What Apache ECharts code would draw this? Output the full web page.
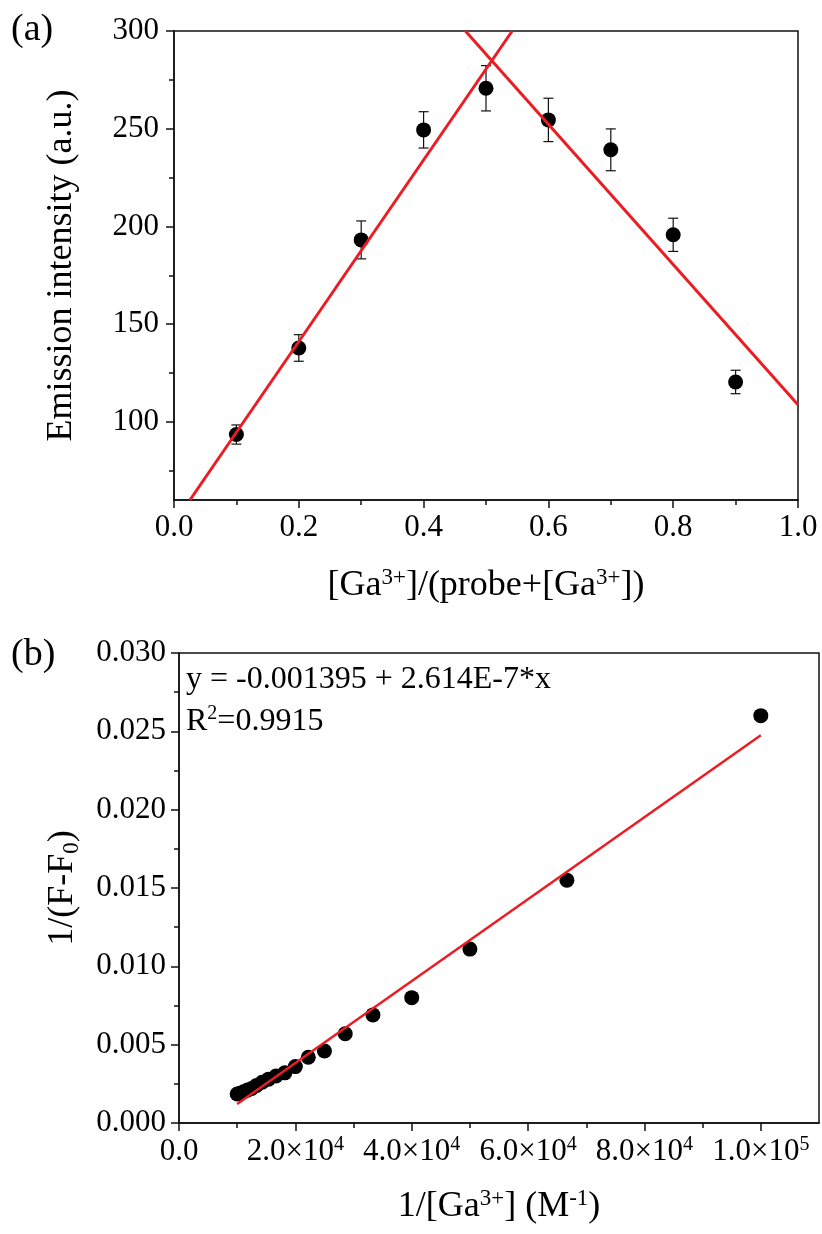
<!DOCTYPE html>
<html>
<head>
<meta charset="utf-8">
<script src="https://cdn.jsdelivr.net/npm/echarts@6/dist/echarts.min.js"></script>
<style>
html,body{margin:0;padding:0;background:#fff;}
#main{width:822px;height:1234px;}
</style>
</head>
<body>
<div id="main"></div>
<script>
// ---------- Panel (a): Job's plot ----------
const ratioA = [0.1, 0.2, 0.3, 0.4, 0.5, 0.6, 0.7, 0.8, 0.9];
const intensityA = [93.5, 137.8, 193.1, 249.4, 270.7, 254.5, 239.2, 195.7, 120.4];
const errA = [4.9, 6.8, 9.7, 9.3, 11.6, 11.1, 10.7, 8.5, 6.0];
const fitRiseA = [[0.0255, 60], [0.542, 300]];
const fitFallA = [[0.467, 300], [1.0, 108.8]];
const yTicksA = [100, 150, 200, 250, 300];
const yMinorA = [75, 125, 175, 225, 275];

// ---------- Panel (b): Benesi-Hildebrand plot ----------
const invGaB = [10000, 10526, 11111, 11765, 12500, 13333, 14286, 15385, 16667, 18182,
                20000, 22222, 25000, 28571, 33333, 40000, 50000, 66667, 100000];
const invDFB = [0.00185, 0.0019, 0.0020, 0.0021, 0.0022, 0.0024, 0.0026, 0.0028, 0.0030, 0.0032,
                0.0036, 0.0042, 0.0046, 0.0057, 0.0069, 0.0080, 0.0111, 0.0155, 0.0260];
const fitB = [[10000, 0.001219], [100000, 0.024745]];
const xTicksB = [0, 20000, 40000, 60000, 80000, 100000];
const xMinorB = [10000, 30000, 50000, 70000, 90000];
const eqText = 'y = -0.001395 + 2.614E-7*x';
const r2Value = '0.9915';

const FONT = 'Liberation Serif';
const TICK = 31, TITLE = 36, SUP = 23;
const AX = '#111';
const RED = '#ec1c24';
const TXT = '#000';

const chart = echarts.init(document.getElementById('main'), null, {renderer: 'canvas'});

const errData = ratioA.map((x, i) => [x, intensityA[i] - errA[i], intensityA[i] + errA[i]]);
const ptsA = ratioA.map((x, i) => [x, intensityA[i]]);
const ptsB = invGaB.map((x, i) => [x, invDFB[i]]);

function sci(v) {
  if (v === 0) return '{n|0.0}';
  const e = Math.floor(Math.log10(v));
  const m = (v / Math.pow(10, e)).toFixed(1);
  return '{n|' + m + '×10}{s|' + e + '}';
}

const lineStyleAx = {color: AX, width: 1.5};
const baseLabel = {fontFamily: FONT, fontSize: TICK, color: TXT};
const titleRich = {
  n: {fontFamily: FONT, fontSize: TITLE, lineHeight: 40, color: TXT},
  s: {fontFamily: FONT, fontSize: SUP, lineHeight: 24, verticalAlign: 'top', color: TXT},
  b: {fontFamily: FONT, fontSize: SUP, lineHeight: 24, verticalAlign: 'bottom', color: TXT}
};

const option = {
  animation: false,
  backgroundColor: '#fff',
  grid: [
    {left: 174, top: 31, width: 624, height: 469, show: true, borderColor: AX, borderWidth: 1.5, containLabel: false},
    {left: 179, top: 653, width: 640, height: 470, show: true, borderColor: AX, borderWidth: 1.5, containLabel: false}
  ],
  xAxis: [
    { gridIndex: 0, type: 'value', position: 'bottom', min: 0, max: 1, interval: 0.2,
      axisLine: {show: true, lineStyle: lineStyleAx},
      axisTick: {show: true, inside: false, length: 8, lineStyle: lineStyleAx},
      minorTick: {show: true, splitNumber: 2, length: 5, lineStyle: lineStyleAx},
      splitLine: {show: false}, minorSplitLine: {show: false},
      axisLabel: Object.assign({}, baseLabel, {margin: 12, formatter: v => v.toFixed(1)}),
      name: '{n|[Ga}{s|3+}{n|]/(probe+[Ga}{s|3+}{n|])}', nameLocation: 'middle', nameGap: 66,
      nameTextStyle: {fontFamily: FONT, color: TXT, rich: titleRich}
    },
    { gridIndex: 1, type: 'value', position: 'bottom', min: 0, max: 110000,
      axisLine: {show: true, lineStyle: lineStyleAx},
      axisTick: {show: true, inside: false, length: 8, lineStyle: lineStyleAx, customValues: xTicksB},
      splitLine: {show: false},
      axisLabel: Object.assign({}, baseLabel, {margin: 12, customValues: xTicksB, formatter: v => sci(v),
        rich: {n: {fontFamily: FONT, fontSize: TICK, lineHeight: 34, color: TXT},
               s: {fontFamily: FONT, fontSize: 20, lineHeight: 20, verticalAlign: 'top', color: TXT}}}),
      name: '{n|1/[Ga}{s|3+}{n|] (M}{s|-1}{n|)}', nameLocation: 'middle', nameGap: 64,
      nameTextStyle: {fontFamily: FONT, color: TXT, rich: titleRich}
    },
    { gridIndex: 1, type: 'value', position: 'bottom', min: 0, max: 110000,
      axisLine: {show: false},
      axisTick: {show: true, inside: false, length: 5, lineStyle: lineStyleAx, customValues: xMinorB},
      axisLabel: {show: false}, splitLine: {show: false}
    }
  ],
  yAxis: [
    { gridIndex: 0, type: 'value', position: 'left', min: 60, max: 300,
      axisLine: {show: true, lineStyle: lineStyleAx},
      axisTick: {show: true, inside: false, length: 8, lineStyle: lineStyleAx, customValues: yTicksA},
      splitLine: {show: false},
      axisLabel: Object.assign({}, baseLabel, {margin: 15, customValues: yTicksA}),
      name: 'Emission intensity (a.u.)', nameLocation: 'middle', nameGap: 94,
      nameTextStyle: {fontFamily: FONT, fontSize: TITLE, color: TXT}
    },
    { gridIndex: 0, type: 'value', position: 'left', min: 60, max: 300,
      axisLine: {show: false},
      axisTick: {show: true, inside: false, length: 5, lineStyle: lineStyleAx, customValues: yMinorA},
      axisLabel: {show: false}, splitLine: {show: false}
    },
    { gridIndex: 1, type: 'value', position: 'left', min: 0, max: 0.03, interval: 0.005,
      axisLine: {show: true, lineStyle: lineStyleAx},
      axisTick: {show: true, inside: false, length: 8, lineStyle: lineStyleAx},
      minorTick: {show: true, splitNumber: 2, length: 5, lineStyle: lineStyleAx},
      splitLine: {show: false}, minorSplitLine: {show: false},
      axisLabel: Object.assign({}, baseLabel, {margin: 13, formatter: v => v.toFixed(3)}),
      name: '{n|1/(F-F}{b|0}{n|)}', nameLocation: 'middle', nameGap: 96,
      nameTextStyle: {fontFamily: FONT, color: TXT, rich: titleRich}
    }
  ],
  graphic: [
    {type: 'text', left: 11, top: 11, style: {text: '(a)', font: '38px "Liberation Serif"', fill: TXT}},
    {type: 'text', left: 11, top: 636, style: {text: '(b)', font: '38px "Liberation Serif"', fill: TXT}},
    {type: 'text', left: 186, top: 664, style: {text: eqText, font: '32px "Liberation Serif"', fill: TXT}},
    {type: 'text', left: 186, top: 704, style: {
      text: '{n|R}{s|2}{n|=' + r2Value + '}',
      rich: {n: {fontFamily: FONT, fontSize: 32, lineHeight: 36, fill: TXT},
             s: {fontFamily: FONT, fontSize: 20, lineHeight: 20, verticalAlign: 'top', fill: TXT}}}}
  ],
  series: [
    { type: 'custom', xAxisIndex: 0, yAxisIndex: 0, data: errData, z: 2,
      renderItem: function (params, api) {
        const x = api.value(0);
        const pLo = api.coord([x, api.value(1)]);
        const pHi = api.coord([x, api.value(2)]);
        const w = 5;
        const st = {stroke: '#111', lineWidth: 1.2};
        return {type: 'group', children: [
          {type: 'line', shape: {x1: pLo[0], y1: pLo[1], x2: pHi[0], y2: pHi[1]}, style: st},
          {type: 'line', shape: {x1: pHi[0] - w, y1: pHi[1], x2: pHi[0] + w, y2: pHi[1]}, style: st},
          {type: 'line', shape: {x1: pLo[0] - w, y1: pLo[1], x2: pLo[0] + w, y2: pLo[1]}, style: st}
        ]};
      }
    },
    { type: 'scatter', xAxisIndex: 0, yAxisIndex: 0, data: ptsA, symbol: 'circle', symbolSize: 15,
      itemStyle: {color: '#000', opacity: 1}, z: 3 },
    { type: 'line', xAxisIndex: 0, yAxisIndex: 0, data: fitRiseA, symbol: 'none',
      lineStyle: {color: RED, width: 3}, z: 4 },
    { type: 'line', xAxisIndex: 0, yAxisIndex: 0, data: fitFallA, symbol: 'none',
      lineStyle: {color: RED, width: 3}, z: 4 },
    { type: 'scatter', xAxisIndex: 1, yAxisIndex: 2, data: ptsB, symbol: 'circle', symbolSize: 15,
      itemStyle: {color: '#000', opacity: 1}, z: 3 },
    { type: 'line', xAxisIndex: 1, yAxisIndex: 2, data: fitB, symbol: 'none',
      lineStyle: {color: RED, width: 2.5}, z: 4 }
  ]
};
chart.setOption(option);
</script>
</body>
</html>
